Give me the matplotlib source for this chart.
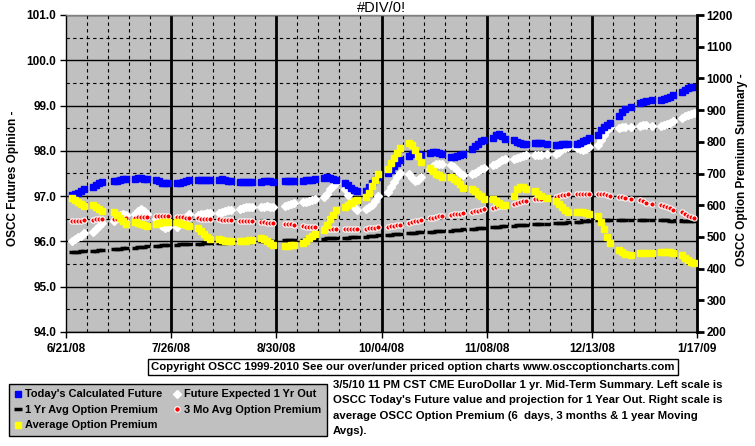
import pandas as pd
import matplotlib
matplotlib.use('Agg')
import matplotlib.pyplot as plt
from matplotlib.lines import Line2D

# trading days 6/23/08 .. 1/16/09 (exchange holidays dropped)
start_date = '2008-06-23'
end_date = '2009-01-16'
holidays = ['2008-07-04', '2008-09-01', '2008-11-27', '2008-12-25', '2009-01-01']

# left scale: futures
today_future = [
    97.02, 97.05, 97.08, 97.12, 97.15,
    97.20, 97.24, 97.28, 97.31,
    97.33, 97.34, 97.36, 97.37, 97.37,
    97.38, 97.40, 97.40, 97.38, 97.37,
    97.36, 97.33, 97.30, 97.28, 97.28,
    97.29, 97.30, 97.32, 97.34, 97.35,
    97.35, 97.35, 97.35, 97.35, 97.35,
    97.36, 97.37, 97.36, 97.34, 97.33,
    97.32, 97.32, 97.32, 97.32, 97.32,
    97.32, 97.33, 97.34, 97.33, 97.32,
    97.34, 97.34, 97.34, 97.34,
    97.34, 97.35, 97.35, 97.36, 97.37,
    97.40, 97.42, 97.41, 97.38, 97.36,
    97.30, 97.25, 97.18, 97.13, 97.12,
    97.12, 97.20, 97.28, 97.36, 97.43,
    97.50, 97.58, 97.66, 97.73, 97.80,
    97.88, 97.92, 97.95, 97.93, 97.90,
    97.96, 97.97, 97.97, 97.95, 97.92,
    97.87, 97.87, 97.88, 97.90, 97.92,
    98.05, 98.10, 98.16, 98.21, 98.25,
    98.28, 98.35, 98.38, 98.33, 98.27,
    98.24, 98.20, 98.17, 98.15, 98.16,
    98.18, 98.18, 98.17, 98.16,
    98.14, 98.14, 98.15, 98.16, 98.16,
    98.15, 98.18, 98.21, 98.25, 98.28,
    98.35, 98.45, 98.52, 98.58, 98.62,
    98.78, 98.85, 98.92, 98.97,
    99.05, 99.08, 99.10, 99.12,
    99.13, 99.15, 99.17, 99.20, 99.24,
    99.30, 99.35, 99.39, 99.41, 99.42,
]

future_1yr = [
    96.00, 96.05, 96.09, 96.13, 96.18,
    96.20, 96.27, 96.33, 96.40,
    96.45, 96.52, 96.58, 96.60, 96.58,
    96.60, 96.68, 96.72, 96.68, 96.60,
    96.50, 96.42, 96.35, 96.30, 96.32,
    96.32, 96.38, 96.46, 96.54, 96.60,
    96.58, 96.60, 96.60, 96.62, 96.63,
    96.63, 96.65, 96.67, 96.69, 96.70,
    96.72, 96.74, 96.76, 96.76, 96.77,
    96.76, 96.77, 96.78, 96.77, 96.75,
    96.78, 96.80, 96.82, 96.84,
    96.86, 96.88, 96.90, 96.92, 96.94,
    96.98, 97.05, 97.15, 97.22, 97.28,
    97.15, 97.02, 96.88, 96.75, 96.70,
    96.72, 96.75, 96.80, 96.90, 97.00,
    97.10, 97.20, 97.32, 97.42, 97.50,
    97.48, 97.40, 97.34, 97.36, 97.43,
    97.60, 97.66, 97.70, 97.72, 97.70,
    97.68, 97.64, 97.58, 97.50, 97.46,
    97.48, 97.52, 97.56, 97.60, 97.63,
    97.68, 97.72, 97.76, 97.79, 97.81,
    97.83, 97.85, 97.87, 97.89, 97.90,
    97.90, 97.91, 97.91, 97.92,
    97.94, 97.98, 98.03, 98.07, 98.09,
    98.07, 98.03, 98.01, 98.04, 98.08,
    98.12, 98.25, 98.36, 98.45, 98.52,
    98.50, 98.52, 98.53, 98.52,
    98.54, 98.56, 98.56, 98.55,
    98.55, 98.57, 98.59, 98.62, 98.65,
    98.72, 98.76, 98.79, 98.81, 98.84,
]

# right scale: option premiums
premium_1yr = [
    451, 452, 453, 454, 455,
    456, 457, 458, 459,
    461, 462, 463, 464, 465,
    466, 467, 468, 469, 470,
    471, 472, 473, 474, 475,
    476, 477, 477, 478, 478,
    479, 479, 480, 480, 481,
    481, 482, 482, 483, 483,
    484, 484, 485, 485, 486,
    486, 487, 487, 488, 488,
    489, 489, 490, 490,
    491, 492, 492, 493, 493,
    494, 495, 495, 496, 497,
    497, 498, 499, 500, 500,
    501, 502, 503, 504, 505,
    506, 507, 508, 509, 510,
    511, 512, 513, 514, 515,
    516, 517, 518, 519, 519,
    520, 521, 522, 523, 524,
    525, 526, 527, 528, 529,
    530, 531, 532, 533, 534,
    535, 536, 537, 538, 539,
    540, 541, 541, 542,
    543, 544, 545, 545, 546,
    547, 548, 549, 550, 551,
    552, 552, 553, 553, 553,
    553, 553, 553, 553,
    553, 553, 552, 552,
    552, 552, 552, 551, 551,
    551, 551, 551, 550, 550,
]

premium_3mo = [
    550, 550, 551, 551, 552,
    554, 555, 556, 557,
    557, 558, 558, 559, 559,
    561, 562, 562, 563, 563,
    565, 566, 566, 566, 565,
    563, 562, 562, 561, 561,
    559, 558, 558, 558, 557,
    555, 554, 553, 553, 552,
    551, 551, 550, 550, 550,
    547, 546, 545, 545, 544,
    541, 540, 540, 539,
    533, 532, 531, 530, 530,
    527, 526, 526, 526, 526,
    526, 526, 526, 526, 526,
    526, 527, 528, 529, 530,
    531, 533, 535, 537, 538,
    545, 547, 549, 551, 553,
    559, 561, 563, 565, 567,
    570, 571, 572, 573, 574,
    579, 581, 583, 585, 587,
    592, 594, 596, 597, 598,
    603, 606, 609, 612, 614,
    619, 620, 621, 622,
    627, 629, 631, 633, 634,
    634, 635, 636, 636, 636,
    636, 635, 634, 632, 630,
    627, 625, 622, 620,
    615, 612, 608, 604,
    602, 598, 594, 590, 585,
    578, 572, 567, 563, 559,
]

premium_avg = [
    622, 616, 610, 604, 598,
    600, 594, 588, 582,
    580, 570, 560, 550, 542,
    548, 544, 540, 537, 535,
    540, 545, 546, 546, 546,
    546, 545, 542, 538, 535,
    528, 518, 508, 500, 494,
    492, 489, 488, 488, 487,
    487, 488, 488, 489, 490,
    497, 492, 486, 480, 476,
    472, 472, 473, 474,
    480, 488, 496, 504, 510,
    522, 538, 555, 570, 584,
    595, 602, 608, 612, 616,
    625, 640, 660, 680, 700,
    715, 733, 750, 765, 780,
    795, 790, 775, 755, 735,
    718, 708, 700, 694, 690,
    690, 683, 675, 666, 655,
    652, 645, 636, 628, 620,
    620, 612, 606, 602, 602,
    628, 650, 658, 657, 650,
    644, 635, 628, 622,
    614, 604, 594, 585, 578,
    580, 578, 577, 575, 572,
    566, 548, 525, 500, 482,
    460, 452, 446, 444,
    448, 449, 450, 450,
    452, 453, 453, 452, 450,
    442, 434, 428, 422, 418,
]

left_ticks = [94.0, 95.0, 96.0, 97.0, 98.0, 99.0, 100.0, 101.0]
right_ticks = [200, 300, 400, 500, 600, 700, 800, 900, 1000, 1100, 1200]
xlim_dates = ['2008-06-21', '2009-01-17']

title_text = '#DIV/0!'
left_label = 'OSCC Futures Opinion -'
right_label = 'OSCC Option Premium Summary -'
copyright_text = ('Copyright OSCC 1999-2010 See our over/under priced option charts '
                  'www.osccoptioncharts.com')
note_text = ("3/5/10 11 PM CST CME EuroDollar 1 yr. Mid-Term Summary. Left scale is\n"
             "OSCC Today's Future value and projection for 1 Year Out. Right scale is\n"
             "average OSCC Option Premium (6  days, 3 months & 1 year Moving\n"
             "Avgs).")

days = pd.bdate_range(start_date, end_date).drop(pd.to_datetime(holidays))

plt.rcParams['font.family'] = ['Liberation Sans', 'DejaVu Sans']
W, H = 755, 446
fig = plt.figure(figsize=(W/100, H/100), dpi=100)
fig.patch.set_facecolor('white')

l, r, t, b = 66, 697, 15, 332
ax = fig.add_axes([l/W, 1-b/H, (r-l)/W, (b-t)/H])
ax.set_facecolor('#C0C0C0')
ax2 = ax.twinx()

x0, x1 = pd.to_datetime(xlim_dates)
major = pd.date_range(x0, x1, freq='35D')
minor = pd.date_range(x0, x1, freq='7D')

ax.set_xlim(x0, x1)
ax.set_ylim(94, 101)
ax2.set_ylim(200, 1200)

ax.set_xticks(major)
ax.set_xticklabels([f"{d.month}/{d.day:02d}/{d.year % 100:02d}" for d in major],
                   fontweight='bold', fontsize=8.5)
ax.set_xticks(minor, minor=True)
ax.set_yticks(left_ticks)
ax.set_yticklabels([f"{v:.1f}" for v in left_ticks], fontweight='bold', fontsize=8.5)
ax.set_yticks([v + 0.5 for v in left_ticks[:-1]], minor=True)
ax2.set_yticks(right_ticks)
ax2.set_yticklabels([str(v) for v in right_ticks], fontweight='bold', fontsize=8.5)

# grid
ax.set_axisbelow(True)
ax.grid(which='minor', color='black', linestyle=(0, (3, 3)), linewidth=0.8)
ax.grid(which='major', axis='y', color='black', linestyle='-', linewidth=1.0)
for d in major[1:-1]:
    ax.axvline(d, color='black', linewidth=2.0, zorder=0.5)

ax.tick_params(which='minor', length=0)
ax.tick_params(axis='both', which='major', length=4, width=1, direction='out', pad=3)
ax.tick_params(axis='x', pad=4)
ax2.tick_params(axis='y', length=5, width=2, direction='out', pad=2)

for s in ax.spines.values():
    s.set_color('black')
    s.set_linewidth(1)
ax.spines['top'].set_color('#808080')
for s in ax2.spines.values():
    s.set_visible(False)
ax2.spines['right'].set_visible(True)
ax2.spines['right'].set_linewidth(2)
ax2.spines['right'].set_color('black')

# series
ax.plot(days, future_1yr, linestyle='none', marker='D', markersize=4,
        markerfacecolor='white', markeredgecolor='white', zorder=3)
ax.plot(days, today_future, linestyle='none', marker='s', markersize=4.5,
        markerfacecolor='#0000FF', markeredgecolor='#0000FF', zorder=4)
ax2.plot(days, premium_1yr, linestyle='none', marker='_', markersize=4,
         markeredgewidth=2.5, color='black', zorder=2)
ax2.plot(days, premium_3mo, linestyle='none', marker='o', markersize=3.8,
         markerfacecolor='#FF0000', markeredgecolor='white', markeredgewidth=0.8, zorder=3)
ax2.plot(days, premium_avg, linestyle='none', marker='s', markersize=4.5,
         markerfacecolor='#FFFF00', markeredgecolor='#FFFF00', zorder=4)

fig.text((l+r)/2/W, 1-8/H, title_text, ha='center', va='center', fontsize=10.5)
fig.text(13/W, 1-178/H, left_label, rotation=90, ha='center', va='center',
         fontweight='bold', fontsize=8.5)
fig.text(742/W, 1-170/H, right_label, rotation=90, ha='center', va='center',
         fontweight='bold', fontsize=8.5)

fig.text(413/W, 1-367/H, copyright_text, ha='center', va='center', fontweight='bold',
         fontsize=8.2, bbox=dict(boxstyle='square,pad=0.25', facecolor='white',
                                 edgecolor='black', linewidth=1))

fig.text(333/W, 1-380/H, note_text, ha='left', va='top', fontweight='bold',
         fontsize=8.2, linespacing=1.68)

handles = [
    Line2D([], [], linestyle='none', marker='s', markersize=4.5, color='#0000FF'),
    Line2D([], [], linestyle='none', marker='_', markersize=6, markeredgewidth=2.5, color='black'),
    Line2D([], [], linestyle='none', marker='s', markersize=5, color='#FFFF00'),
    Line2D([], [], linestyle='none', marker='D', markersize=4, color='white'),
    Line2D([], [], linestyle='none', marker='o', markersize=4, markerfacecolor='#FF0000',
           markeredgecolor='white', markeredgewidth=0.8),
]
labels = ["Today's Calculated Future", '1 Yr Avg Option Premium', 'Average Option Premium',
          'Future Expected 1 Yr Out', '3 Mo Avg Option Premium']
leg = fig.legend(handles, labels, loc='upper left',
                 bbox_to_anchor=(9/W, 1-440/H, 318/W, 56/H), mode='expand',
                 ncol=2, fancybox=False, framealpha=1, facecolor='#C0C0C0',
                 edgecolor='black', borderpad=0.5, handlelength=0.6, handletextpad=0.4,
                 labelspacing=0.5, columnspacing=0.8, borderaxespad=0,
                 prop={'weight': 'bold', 'size': 7.9})
leg.get_frame().set_linewidth(1)

fig.savefig('out.png', dpi=100)
